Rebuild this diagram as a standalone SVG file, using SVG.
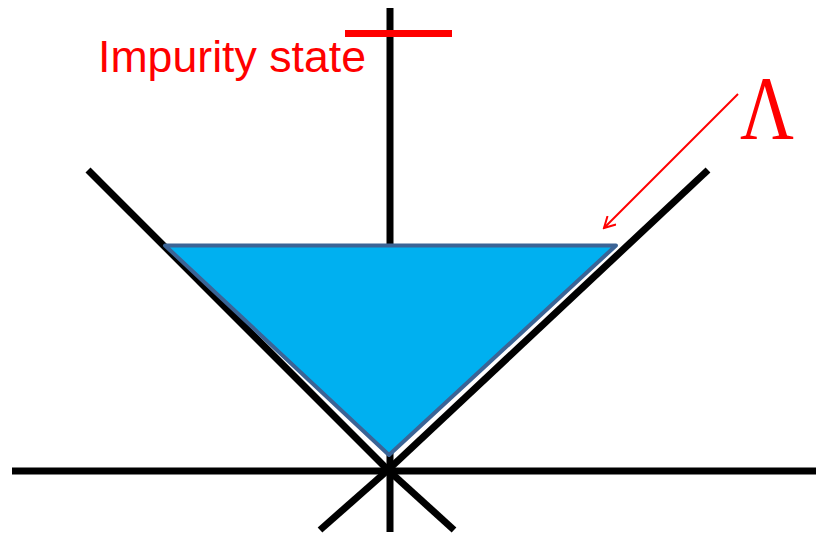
<svg xmlns="http://www.w3.org/2000/svg" width="816" height="534" viewBox="0 0 816 534">
<style>
.ax{stroke:#000;stroke-width:7;fill:none}
.red{fill:#ff0000}
</style>
<defs>
<marker id="open" markerWidth="14" markerHeight="14" refX="12" refY="7" orient="auto" markerUnits="userSpaceOnUse">
<path d="M1,1 L12,7 L1,13" fill="none" stroke="#ff0000" stroke-width="2"/>
</marker>
</defs>
<rect width="816" height="534" fill="#fff"/>
<g id="axes">
<line class="ax" x1="390" y1="8" x2="390" y2="532"/>
<line class="ax" x1="12" y1="471" x2="816" y2="471"/>
<line class="ax" x1="88" y1="170" x2="388" y2="470"/>
<line class="ax" x1="708" y1="170" x2="388" y2="470"/>
<line class="ax" x1="388" y1="470" x2="320" y2="530"/>
<line class="ax" x1="388" y1="470" x2="454" y2="530"/>
</g>
<g id="fermi-sea">
<polygon points="165,245.5 616,245.5 389,455" fill="#00b0f0" stroke="#3b6496" stroke-width="4" stroke-linejoin="round"/>
</g>
<g id="impurity">
<line x1="345" y1="33.5" x2="452" y2="33.5" stroke="#ff0000" stroke-width="7"/>
<text x="98" y="72" class="red" font-family="Liberation Sans, Arial, sans-serif" font-size="44" textLength="268" lengthAdjust="spacingAndGlyphs">Impurity state</text>
</g>
<g id="lambda">
<text x="767" y="139" class="red" font-family="Liberation Serif, Times New Roman, serif" font-size="90" text-anchor="middle" textLength="54" lengthAdjust="spacingAndGlyphs">Λ</text>
</g>
<g id="connectors">
<line x1="738" y1="94" x2="604" y2="228" stroke="#ff0000" stroke-width="2" marker-end="url(#open)"/>
</g>
</svg>
